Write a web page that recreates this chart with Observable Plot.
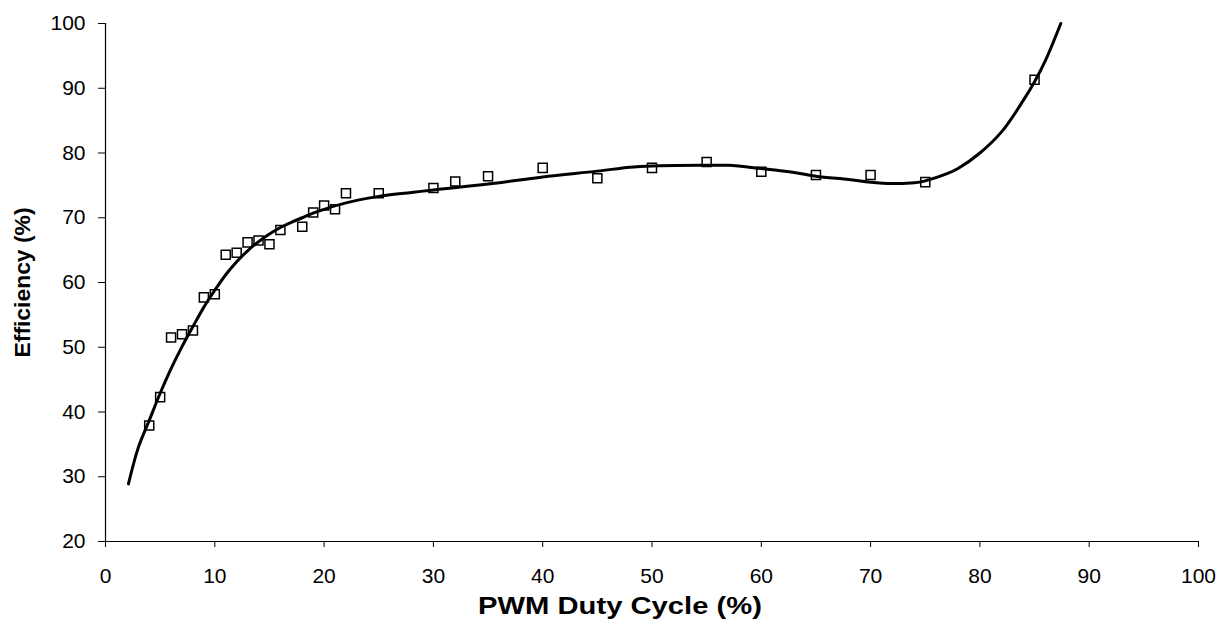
<!DOCTYPE html>
<html>
<head>
<meta charset="utf-8">
<script src="https://cdn.jsdelivr.net/npm/d3@7"></script>
<script src="https://cdn.jsdelivr.net/npm/@observablehq/plot@0.6"></script>
<style>
  html, body { margin: 0; padding: 0; background: #fff; }
</style>
</head>
<body>
<div id="chart"></div>
<script>
// Measured points (open squares)
const dutyMeasured = [4, 5, 6, 7, 8, 9, 10, 11, 12, 13, 14, 15, 16, 18, 19, 20, 21, 22, 25, 30, 32, 35, 40, 45, 50, 55, 60, 65, 70, 75, 85];
const effMeasured  = [37.9, 42.3, 51.5, 52.0, 52.6, 57.7, 58.2, 64.3, 64.6, 66.2, 66.5, 65.9, 68.1, 68.6, 70.8, 71.9, 71.3, 73.8, 73.8, 74.6, 75.6, 76.4, 77.7, 76.1, 77.7, 78.6, 77.1, 76.6, 76.6, 75.5, 91.3];

// Trend curve
const dutyTrend = [2.1, 3, 4, 5, 6, 7, 8, 9, 10, 11, 12, 13, 14, 15, 16, 17, 18, 19, 20, 22, 25, 28, 30, 35, 40, 45, 48, 50, 55, 57, 60, 63, 65, 68, 70, 72, 74, 75, 77, 78, 80, 82, 84, 85, 86, 87.4];
const effTrend  = [28.9, 34.5, 38.7, 42.9, 46.7, 50.1, 53.2, 56.2, 58.8, 61.2, 63.2, 64.9, 66.3, 67.5, 68.5, 69.3, 70.0, 70.7, 71.3, 72.3, 73.3, 73.9, 74.3, 75.2, 76.3, 77.2, 77.8, 78.0, 78.1, 78.1, 77.6, 77.0, 76.4, 75.9, 75.5, 75.3, 75.4, 75.7, 76.8, 77.6, 80.0, 83.3, 88.2, 91.0, 94.3, 100];

const xTicks = [0, 10, 20, 30, 40, 50, 60, 70, 80, 90, 100];
const yTicks = [20, 30, 40, 50, 60, 70, 80, 90, 100];
const xTitle = "PWM Duty Cycle (%)";
const yTitle = "Efficiency (%)";

const measured = dutyMeasured.map((d, i) => ({duty: d, eff: effMeasured[i]}));
const trend = dutyTrend.map((d, i) => ({duty: d, eff: effTrend[i]}));

const chart = Plot.plot({
  width: 1230,
  height: 627,
  marginLeft: 105,
  marginRight: 32,
  marginTop: 23,
  marginBottom: 86,
  style: {fontFamily: "'Liberation Sans', Arial, sans-serif", background: "#fff", color: "#000"},
  x: {domain: [0, 100]},
  y: {domain: [20, 100]},
  marks: [
    Plot.axisX({ticks: xTicks, tickSize: 6, tickPadding: 21, fontSize: 21, label: null, tickFormat: d => String(d)}),
    Plot.axisY({ticks: yTicks, tickSize: 7, tickPadding: 13, fontSize: 21, label: null, tickFormat: d => String(d)}),
    Plot.ruleY([20], {stroke: "#000", strokeWidth: 1.2}),
    Plot.ruleX([0], {stroke: "#000", strokeWidth: 1.2}),
    Plot.dot(measured, {x: "duty", y: "eff", symbol: "square", r: 5.1, stroke: "#000", strokeWidth: 1.5, fill: "#fff"}),
    Plot.line(trend, {x: "duty", y: "eff", stroke: "#000", strokeWidth: 3, curve: "catmull-rom"}),
    Plot.text([xTitle], {text: d => d, frameAnchor: "bottom", dy: 65, dx: -32, fontWeight: "bold", fontSize: 23, lineAnchor: "middle", textAnchor: "middle", fill: "#000"}),
    Plot.text([yTitle], {text: d => d, frameAnchor: "left", dx: -83, rotate: -90, fontWeight: "bold", fontSize: 22, lineAnchor: "middle", textAnchor: "middle", fill: "#000"})
  ]
});

document.getElementById("chart").appendChild(chart);

d3.select(chart).selectAll("text").each(function() {
  const t = this.textContent;
  if (t === xTitle) d3.select(this).attr("textLength", 284).attr("lengthAdjust", "spacingAndGlyphs");
  if (t === yTitle) d3.select(this).attr("textLength", 150).attr("lengthAdjust", "spacingAndGlyphs");
});
</script>
</body>
</html>
